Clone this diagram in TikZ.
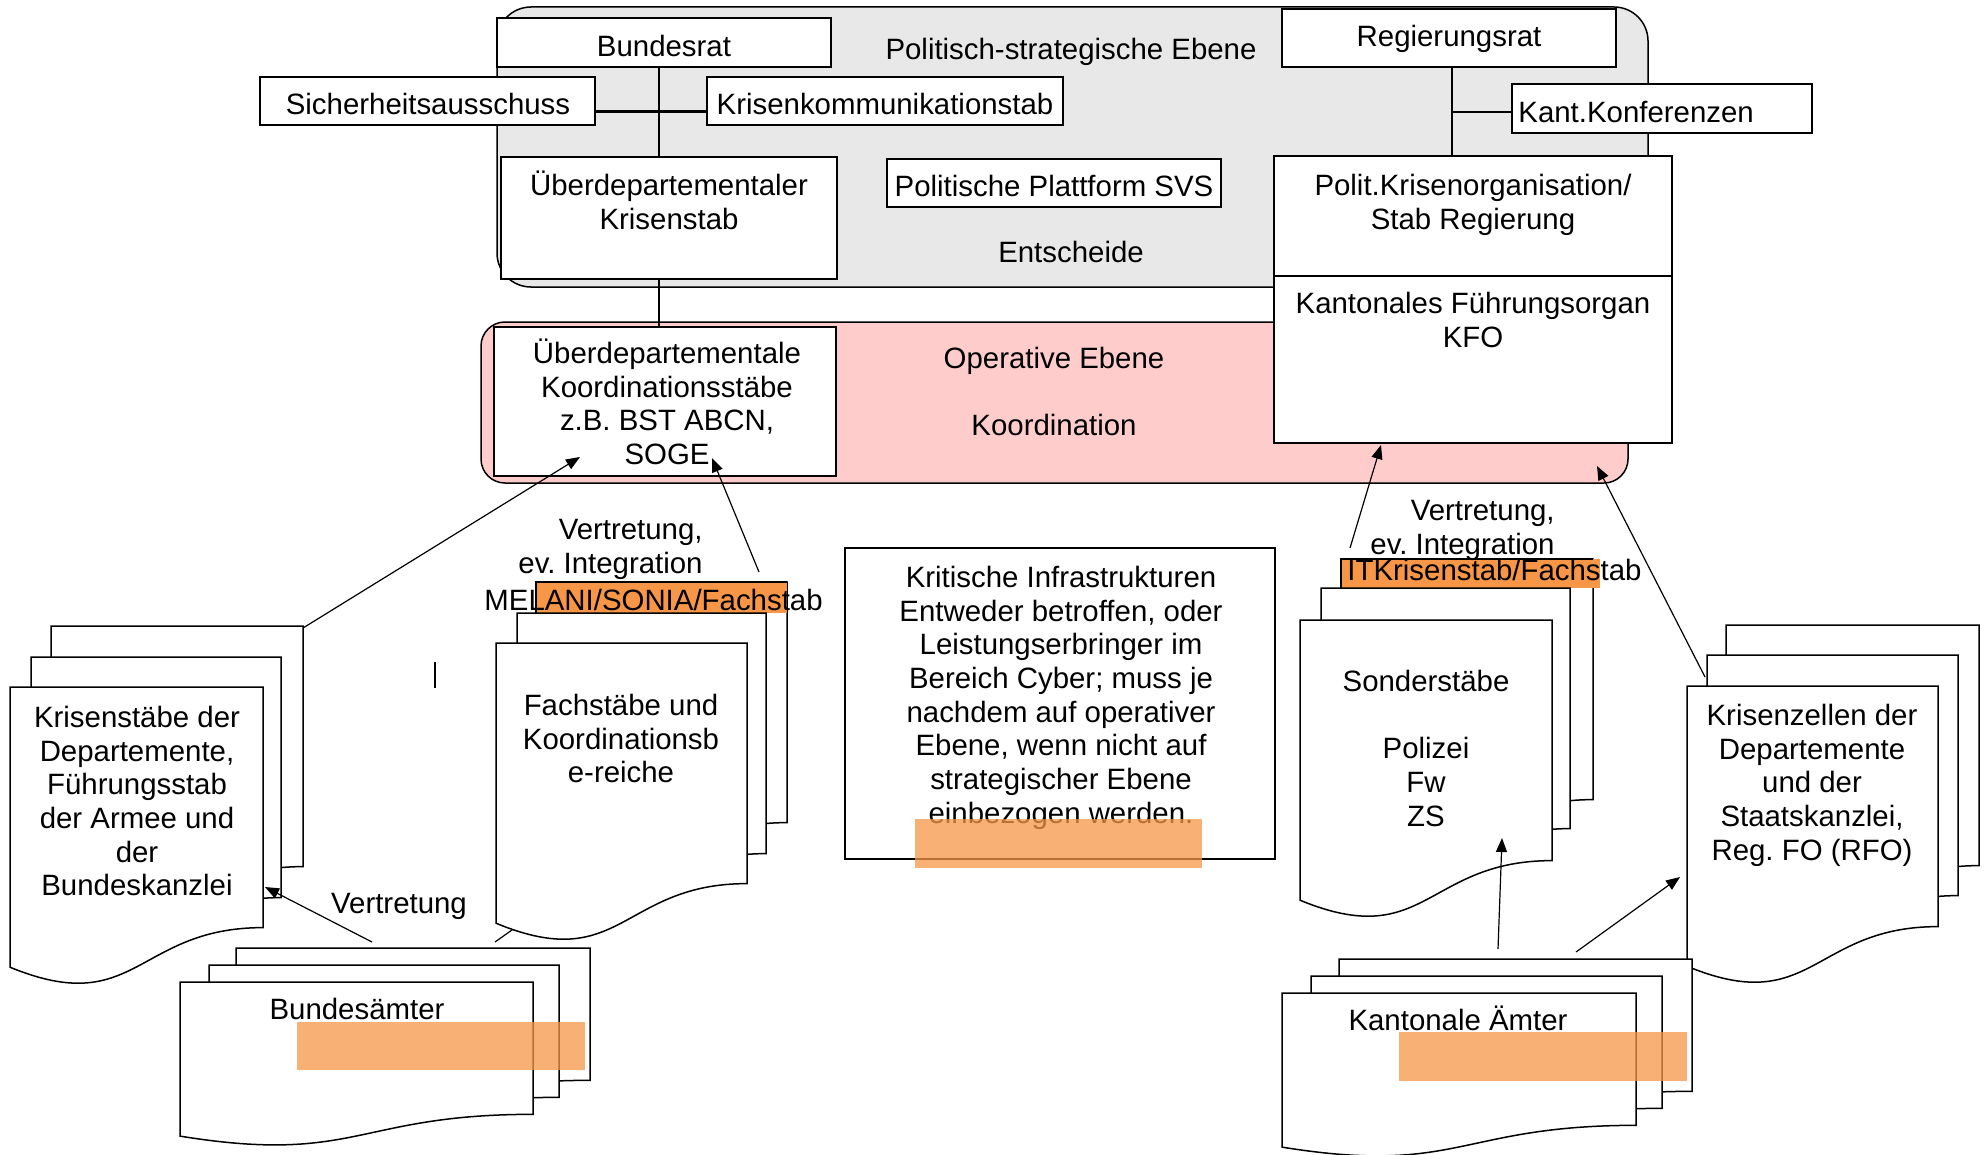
\documentclass[tikz,border=0pt]{standalone}
\usepackage{fontspec}
\setmainfont{Liberation Sans}
\usetikzlibrary{arrows.meta,fit}
\definecolor{polgray}{RGB}{232,232,232}
\definecolor{oppink}{RGB}{255,204,204}
\definecolor{hlorange}{RGB}{247,150,70}
\newcommand\fs{\fontsize{14.7pt}{16.85pt}\selectfont}
\newcommand\fl{\rule{0pt}{14pt}}
\frenchspacing
% name x y w h
\newcommand\docsheet[5]{%
  \filldraw[sheet] (#2,#3) -- (#2+#4,#3) -- (#2+#4,#3+0.802*#5)
    .. controls (#2+0.5*#4,#3+0.802*#5) and (#2+0.5*#4,#3+1.1075*#5) .. (#2,#3+0.934*#5) -- cycle;
  \coordinate (#1) at (#2,#3);%
}
\begin{document}
\begin{tikzpicture}[x=0.5pt,y=-0.5pt,
  box/.style={draw, fill=white, line width=0.75pt, inner sep=0pt},
  sheet/.style={draw, fill=white, line width=0.75pt},
  sheetline/.style={line width=0.75pt},
  txt/.style={inner sep=0pt, font=\fs},
  mtxt/.style={inner sep=0pt, font=\fs, align=center, anchor=north},
  link/.style={line width=0.6pt},
  thicklink/.style={line width=1.5pt},
  arr/.style={line width=0.6pt, -{Triangle[length=7pt,width=5.5pt]}},
  tint/.style={fill=hlorange, fill opacity=0.75}]
\useasboundingbox (0,0) rectangle (1984,1155);
\fill[white] (0,0) rectangle (1984,1155);

% levels
\node[fit={(497,7) (1648,287)}, draw, fill=polgray, rounded corners=17pt, line width=0.75pt, inner sep=0pt] (polebene) {};
\node[fit={(481,322) (1628,483)}, draw, fill=oppink, rounded corners=12pt, line width=0.75pt, inner sep=0pt] (opebene) {};

% boxes
\node[box, fit={(497,18) (831,67)}] (bundesrat) {};
\node[box, fit={(260,77) (595,125)}] (sicher) {};
\node[box, fit={(707,77) (1063,125)}] (kkomm) {};
\node[box, fit={(501,157) (837,279)}] (uek) {};
\node[box, fit={(887,159) (1221,207)}] (plattform) {};
\node[box, fit={(1282,9) (1616,67)}] (regrat) {};
\node[box, fit={(1512,84) (1812,133)}] (kantkonf) {};
\node[box, fit={(1274,156) (1672,276)}] (polit) {};
\node[box, fit={(1274,276) (1672,443)}] (kfo) {};
\node[box, fit={(494,327) (836,476)}] (udk) {};

% connectors top
\coordinate (bx) at (659,0);
\coordinate (hy) at (0,112);
\coordinate (rx) at (1452,0);
\draw[link] (bundesrat.south -| bx) -- (uek.north -| bx);
\draw[link] (uek.south -| bx) -- (udk.north -| bx);
\draw[thicklink] (sicher.east |- hy) -- (kkomm.west |- hy);
\draw[link] (regrat.south -| rx) -- (polit.north -| rx);
\draw[link] (rx |- hy) -- (kantkonf.west |- hy);

% texts top
\node[txt, anchor=base] (tbr) at (664,57) {Bundesrat};
\node[txt, anchor=base] (tsa) at (428,115) {Sicherheitsausschuss};
\node[txt, anchor=base] (tkk) at (885,115) {Krisenkommunikationstab};
\node[txt, anchor=base] (tpse) at (1071,60) {Politisch-strategische Ebene};
\node[mtxt] (tuek) at (669,167) {\fl Überdepartementaler\\Krisenstab};
\node[txt, anchor=base] (tpp) at (1054,197) {Politische Plattform SVS};
\node[txt, anchor=base] (tent) at (1071,263) {Entscheide};
\node[txt, anchor=base] (trr) at (1449,47) {Regierungsrat};
\node[txt, anchor=base west] (tkkf) at (1518,123) {Kant.Konferenzen};
\node[mtxt] (tpk) at (1473,167) {\fl Polit.Krisenorganisation/\\Stab Regierung};
\node[mtxt] (tkfo) at (1473,285) {\fl Kantonales Führungsorgan\\KFO};
\node[mtxt] (tudk) at (667,335) {\fl Überdepartementale\\Koordinationsstäbe\\z.B. BST ABCN,\\SOGE};
\node[txt, anchor=base] (tope) at (1054,368) {Operative Ebene};
\node[txt, anchor=base] (tkoord) at (1054,435) {Koordination};

% stub behind Fachstaebe
\coordinate (stubA) at (495,942);
\coordinate (stubB) at (560,896);
\draw[link] (stubA) -- (stubB);

% document stacks
\docsheet{ksback}{51}{626}{252}{300}
\docsheet{ksmid}{31}{657}{250}{300}
\docsheet{ksfront}{10}{687}{253}{300}

\docsheet{fsback}{536}{582}{251}{300}
\fill[hlorange] (536,582) rectangle (787,613);
\draw[sheetline] (536,613) -- (536,582) -- (787,582);
\docsheet{fsmid}{517}{613}{249}{300}
\docsheet{fsfront}{496}{643}{251}{300}

\docsheet{ssback}{1341}{559}{252}{300}
\fill[hlorange] (1341,559) rectangle (1600,588);
\draw[sheetline] (1341,588) -- (1341,559) -- (1593,559);
\docsheet{ssmid}{1321}{588}{249}{300}
\docsheet{ssfront}{1300}{620}{252}{300}

\docsheet{kzback}{1726}{625}{253}{300}
\docsheet{kzmid}{1707}{655}{251}{300}
\docsheet{kzfront}{1687}{686}{251}{300}

\docsheet{baback}{236}{948}{354}{165}
\docsheet{bamid}{209}{965}{350}{165}
\docsheet{bafront}{180}{982}{353}{165}

\docsheet{kaback}{1339}{959}{353}{165}
\docsheet{kamid}{1311}{976}{351}{165}
\docsheet{kafront}{1282}{993}{354}{165}

\node[box, fit={(845,548) (1275,859)}] (kritis) {};

% stray mark
\coordinate (markA) at (435,662);
\coordinate (markB) at (435,688);
\draw[link] (markA) -- (markB);

% texts lower
\node[txt, align=right, anchor=north east] (tvl) at (703,511) {\fl Vertretung,\\ev. Integration};
\node[txt, anchor=base west] (tmel) at (484,610) {MELANI/SONIA/Fachstab};
\node[txt, align=right, anchor=north east] (tvr) at (1555,492) {\fl Vertretung,\\ev. Integration};
\node[txt, anchor=base west] (titk) at (1347,580) {ITKrisenstab/Fachstab};
\node[mtxt] (tks) at (137,699) {\fl Krisenstäbe der\\Departemente,\\Führungsstab\\der Armee und\\der\\Bundeskanzlei};
\node[mtxt] (tfs) at (621,687) {\fl Fachstäbe und\\Koordinationsb\\e-reiche};
\node[txt, anchor=base] (tvu) at (399,913) {Vertretung};
\node[mtxt] (tkr) at (1061,559) {\fl Kritische Infrastrukturen\\Entweder betroffen, oder\\Leistungserbringer im\\Bereich Cyber; muss je\\nachdem auf operativer\\Ebene, wenn nicht auf\\strategischer Ebene\\einbezogen werden.};
\node[mtxt] (tss) at (1426,663) {\fl Sonderstäbe\\ \mbox{}\\Polizei\\Fw\\ZS};
\node[mtxt] (tkz) at (1812,697) {\fl Krisenzellen der\\Departemente\\und der\\Staatskanzlei,\\Reg. FO (RFO)};
\node[txt, anchor=base] (tba) at (357,1019) {Bundesämter};
\node[txt, anchor=base] (tka) at (1458,1030) {Kantonale Ämter};

% arrows
\coordinate (a1s) at (303,628); \coordinate (a1e) at (580,457);
\coordinate (a2s) at (759,572); \coordinate (a2e) at (712,458);
\coordinate (a3s) at (372,942); \coordinate (a3e) at (265,887);
\coordinate (a4s) at (1350,548); \coordinate (a4e) at (1381,445);
\coordinate (a5s) at (1705,677); \coordinate (a5e) at (1597,466);
\coordinate (a6s) at (1498,949); \coordinate (a6e) at (1502,838);
\coordinate (a7s) at (1576,952); \coordinate (a7e) at (1680,877);
\draw[arr] (a1s) -- (a1e);
\draw[arr] (a2s) -- (a2e);
\draw[arr] (a3s) -- (a3e);
\draw[arr] (a4s) -- (a4e);
\draw[arr] (a5s) -- (a5e);
\draw[arr] (a6s) -- (a6e);
\draw[arr] (a7s) -- (a7e);

% orange tints
\fill[tint] (915,819) rectangle (1202,868);
\fill[tint] (297,1022) rectangle (585,1070);
\fill[tint] (1399,1032) rectangle (1687,1081);
\end{tikzpicture}
\end{document}
